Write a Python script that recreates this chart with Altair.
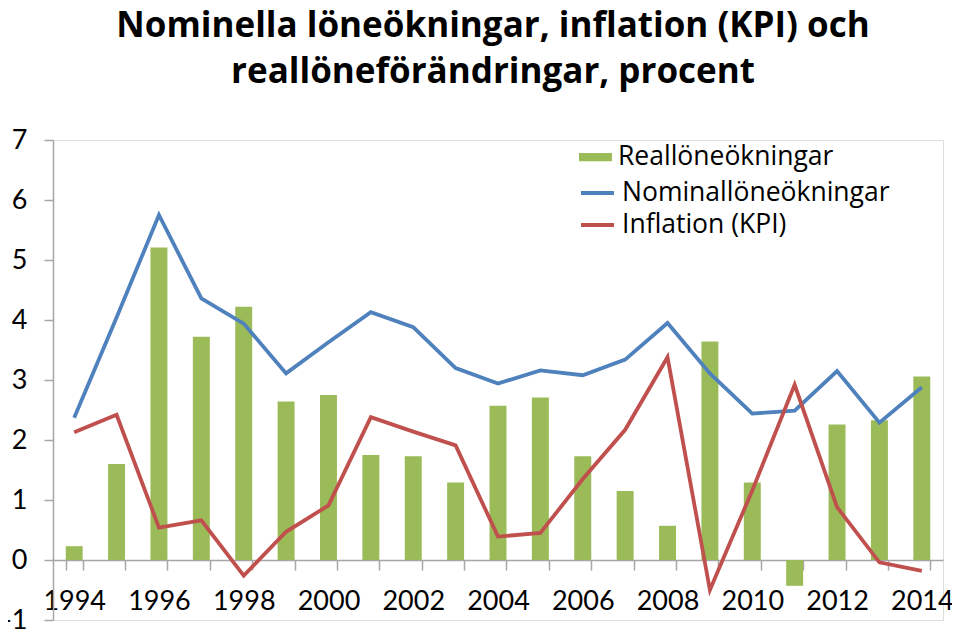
import altair as alt
import pandas as pd

years = [str(y) for y in range(1994, 2015)]
real = [0.23, 1.60, 5.21, 3.72, 4.22, 2.64, 2.75, 1.75, 1.73, 1.29, 2.57,
        2.71, 1.73, 1.15, 0.57, 3.64, 1.29, -0.43, 2.26, 2.33, 3.06]
nominal = [2.37, 4.04, 5.75, 4.36, 3.94, 3.11, 3.63, 4.13, 3.88, 3.20, 2.94,
           3.16, 3.08, 3.34, 3.95, 3.11, 2.44, 2.49, 3.15, 2.29, 2.88]
inflation = [2.13, 2.42, 0.54, 0.66, -0.26, 0.47, 0.91, 2.38, 2.14, 1.91, 0.39,
             0.45, 1.35, 2.17, 3.38, -0.50, 1.16, 2.92, 0.88, -0.04, -0.18]

bar_name = "Reallöneökningar"
line_names = ["Nominallöneökningar", "Inflation (KPI)"]

bars_df = pd.DataFrame({"year": years, "value": real, "series": bar_name})
lines_df = pd.DataFrame({
    "year": years * 2,
    "value": nominal + inflation,
    "series": [line_names[0]] * len(years) + [line_names[1]] * len(years),
})

W, H = 890, 480
FONT = "Lato"
LEG_FONT = "Open Sans"
GRAY = "#A6A6A6"

x_scale = alt.Scale(paddingInner=0.6, paddingOuter=0.3)
y_scale = alt.Scale(domain=[-1, 7], nice=False, zero=False)

x_axis = alt.Axis(
    title=None, tickBand="extent", labelAngle=0, labelOverlap=False, grid=False,
    labelExpr="toNumber(datum.value) % 2 == 0 ? datum.value : ''",
    offset=-H / 8, tickSize=10, tickWidth=1.5, domainWidth=1.5,
    domainColor=GRAY, tickColor=GRAY, labelPadding=18,
    labelFont=FONT, labelFontSize=27, labelColor="black",
)
y_axis = alt.Axis(
    title=None, values=list(range(-1, 8)), labelExpr="'' + datum.value",
    grid=False, tickSize=9,
    tickWidth=1.5, domainWidth=1.5, domainColor=GRAY, tickColor=GRAY,
    labelPadding=17, labelFont=FONT, labelFontSize=27, labelColor="black",
)

bars = alt.Chart(bars_df).mark_bar(color="#9BBB59").encode(
    x=alt.X("year:N", scale=x_scale, axis=x_axis, sort=years),
    y=alt.Y("value:Q", scale=y_scale, axis=y_axis),
    color=alt.Color(
        "series:N",
        scale=alt.Scale(domain=[bar_name], range=["#9BBB59"]),
        legend=alt.Legend(
            title=None, orient="none", legendX=526, legendY=0.5, padding=0,
            symbolType="M-1,-0.25L1,-0.25L1,0.25L-1,0.25Z", symbolSize=1089,
            symbolStrokeWidth=0, symbolOpacity=1, labelLimit=0,
            labelFont=LEG_FONT, labelFontSize=26.5, labelColor="black", labelOffset=6,
        ),
    ),
)

lines = alt.Chart(lines_df).mark_line(strokeWidth=3.8).encode(
    x=alt.X("year:N", scale=x_scale, axis=x_axis, sort=years),
    y=alt.Y("value:Q", scale=y_scale, axis=y_axis),
    stroke=alt.Stroke(
        "series:N",
        scale=alt.Scale(domain=line_names, range=["#4F81BD", "#C0504D"]),
        sort=line_names,
        legend=alt.Legend(
            title=None, orient="none", legendX=526, legendY=34.5, padding=0,
            symbolType="stroke", symbolSize=1089, symbolStrokeWidth=3.8,
            rowPadding=0, labelLimit=0,
            labelFont=LEG_FONT, labelFontSize=26.5, labelColor="black", labelOffset=6,
        ),
    ),
    detail="series:N",
)

chart = alt.layer(bars, lines).properties(
    width=W, height=H,
    autosize=alt.AutoSizeParams(type="none"),
    padding={"left": 45, "top": 132, "right": 9, "bottom": 9},
    title=alt.TitleParams(
        text=["Nominella löneökningar, inflation (KPI) och",
              "reallöneförändringar, procent"],
        font="Open Sans", fontSize=35, fontWeight="bold", color="black",
        anchor="middle", lineHeight=46, offset=36, dx=-5,
    ),
).configure_view(stroke="transparent", strokeWidth=0).configure(background="white")

chart.save("out.html", embed_options={"renderer": "svg", "actions": False})
